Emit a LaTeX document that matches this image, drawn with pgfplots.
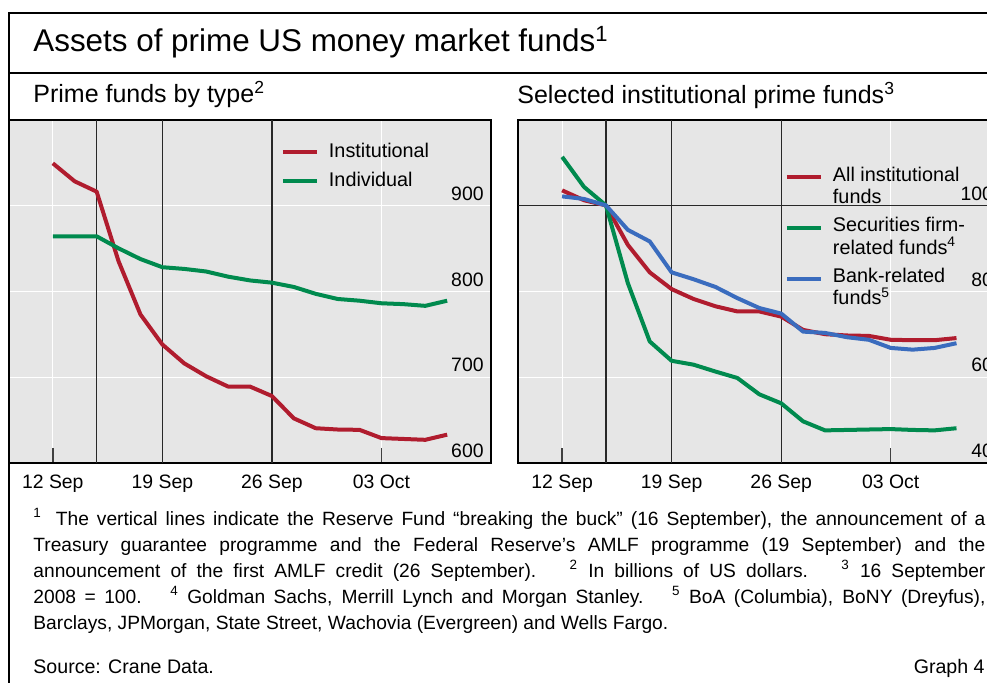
\documentclass[border=0pt]{standalone}
\usepackage{fontspec}
\setmainfont{Liberation Sans}
\usepackage{pgfplots}
\pgfplotsset{compat=1.18}
\definecolor{bisred}{RGB}{176,28,46}
\definecolor{bisgreen}{RGB}{0,138,78}
\definecolor{bisblue}{RGB}{58,108,190}
\definecolor{bg}{RGB}{230,230,230}
\definecolor{evline}{RGB}{40,40,40}

\pgfplotsset{
  bispanel/.style={
    scale only axis, width=241pt, height=171.75pt,
    xmin=-2, xmax=20,
    axis background/.style={fill=bg},
    axis line style={line width=1pt, black},
    xtick={0,5,10,15}, xticklabels={12 Sep,19 Sep,26 Sep,03 Oct},
    xtick pos=bottom, tick align=inside, major tick length=7.5pt,
    xtick style={black!75, line width=0.7pt},
    ytick style={draw=none},
    xmajorgrids, ymajorgrids,
    grid style={white, line width=0.6pt},
    yticklabel pos=right,
    ticklabel style={font=\fontsize{9.7}{11}\selectfont, inner sep=0pt},
    yticklabel style={anchor=base east, xshift=-3.5pt, yshift=2.6pt},
    xticklabel style={anchor=base, yshift=-12.5pt},
    legend cell align=left,
    legend style={draw=none, fill=none, inner sep=0pt, outer sep=0pt,
      font=\fontsize{9.9}{11.15}\selectfont,
      nodes={inner sep=0pt, align=left}, column sep=5pt},
  }
}

\begin{document}
\begin{tikzpicture}[x=0.5pt, y=0.5pt]
\useasboundingbox (0,0) rectangle (987,682);
\clip (0,0) rectangle (987,682);
\fill[white] (0,0) rectangle (987,682);
\coordinate (LA) at (9,219);
\coordinate (RA) at (518.3,219);

% ---------- left panel ----------
\begin{axis}[bispanel, at={(LA)}, anchor=south west,
  ymin=600, ymax=1000, ytick={600,700,800,900}, yticklabels={600,700,800,900},
  legend style={at={(0.5643,0.932)}, anchor=north west, row sep=5.85pt},
  legend image code/.code={\draw[#1] (0pt,0pt) -- (17pt,0pt);},
]
\addplot[evline, line width=0.65pt, forget plot] coordinates {(2,600) (2,1000)};
\addplot[evline, line width=0.65pt, forget plot] coordinates {(5,600) (5,1000)};
\addplot[evline, line width=0.65pt, forget plot] coordinates {(10,600) (10,1000)};
\addplot[bisred, line width=2pt, line join=round] coordinates {
(0,949) (1,928) (2,916) (3,835) (4,773) (5,738) (6,716) (7,701) (8,689) (9,689)
(10,678) (11,652) (12,640.5) (13,639) (14,638.6) (15,629) (16,628) (17,627) (18,633)};
\addlegendentry{Institutional}
\addplot[bisgreen, line width=2pt, line join=round] coordinates {
(0,864) (1,864) (2,864) (3,850) (4,837.5) (5,828) (6,826) (7,823) (8,817) (9,812.6)
(10,810) (11,805) (12,797) (13,791) (14,789) (15,786) (16,785) (17,783) (18,789)};
\addlegendentry{Individual}
\end{axis}

% ---------- right panel ----------
\begin{axis}[bispanel, at={(RA)}, anchor=south west,
  ymin=40, ymax=120, ytick={40,60,80,100}, yticklabels={40,60,80,100},
  legend style={at={(0.5533,0.862)}, anchor=north west, row sep=5.5pt},
  legend image code/.code={\draw[#1] (0pt,4.7pt) -- (17pt,4.7pt);},
]
\addplot[evline, line width=0.65pt, forget plot] coordinates {(2,40) (2,120)};
\addplot[evline, line width=0.65pt, forget plot] coordinates {(5,40) (5,120)};
\addplot[evline, line width=0.65pt, forget plot] coordinates {(10,40) (10,120)};
\addplot[evline, line width=0.65pt, forget plot] coordinates {(-2,100) (20,100)};
\addplot[bisred, line width=2pt, line join=round] coordinates {
(0,103.5) (1,101.2) (2,100) (3,90.8) (4,84.4) (5,80.5) (6,78.2) (7,76.5) (8,75.3) (9,75.3)
(10,74.1) (11,71.0) (12,70.0) (13,69.7) (14,69.6) (15,68.7) (16,68.6) (17,68.6) (18,69.1)};
\addlegendentry{All institutional\\funds}
\addplot[bisgreen, line width=2pt, line join=round] coordinates {
(0,111.3) (1,104.3) (2,100) (3,81.9) (4,68.3) (5,63.8) (6,62.9) (7,61.3) (8,59.8) (9,56.0)
(10,53.9) (11,49.7) (12,47.6) (13,47.7) (14,47.8) (15,47.9) (16,47.7) (17,47.6) (18,48.1)};
\addlegendentry{Securities firm-\\related funds\textsuperscript{4}}
\addplot[bisblue, line width=2pt, line join=round] coordinates {
(0,102.1) (1,101.5) (2,100) (3,94.3) (4,91.6) (5,84.4) (6,82.8) (7,81.0) (8,78.4) (9,76.1)
(10,74.8) (11,70.6) (12,70.3) (13,69.3) (14,68.7) (15,66.8) (16,66.4) (17,66.8) (18,67.9)};
\addlegendentry{Bank-related\\funds\textsuperscript{5}}
\end{axis}

% ---------- frame and texts ----------
\draw[line width=1pt] (9,669.3) rectangle (1012,-18);
\draw[line width=1pt] (9,609.3) -- (1012,609.3);
\node[anchor=base west, inner sep=0pt, font=\fontsize{15.7}{18}\selectfont] at (33,630.3)
  {Assets of prime US money market funds\textsuperscript{1}};
\node[anchor=base west, inner sep=0pt, font=\fontsize{12.5}{14}\selectfont] at (33,579.5)
  {Prime funds by type\textsuperscript{2}};
\node[anchor=base west, inner sep=0pt, font=\fontsize{12.5}{14}\selectfont] at (517,578.5)
  {Selected institutional prime funds\textsuperscript{3}};

\begin{scope}[every node/.style={anchor=base west, inner sep=0pt, font=\fontsize{9.6}{13}\selectfont}]
\node at (33,157) {\makebox[476pt][s]{\textsuperscript{1}\hspace{3pt} The vertical lines indicate the Reserve Fund “breaking the buck” (16 September), the announcement of a}};
\node at (33,131) {\makebox[476pt][s]{Treasury guarantee programme and the Federal Reserve’s AMLF programme (19 September) and the}};
\node at (33,105) {\makebox[476pt][s]{announcement of the first AMLF credit (26 September).\hspace{6pt} \textsuperscript{2} In billions of US dollars.\hspace{6pt} \textsuperscript{3} 16 September}};
\node at (33,79) {\makebox[476pt][s]{2008 = 100.\hspace{6pt} \textsuperscript{4} Goldman Sachs, Merrill Lynch and Morgan Stanley.\hspace{6pt} \textsuperscript{5} BoA (Columbia), BoNY (Dreyfus),}};
\node at (33,53) {Barclays, JPMorgan, State Street, Wachovia (Evergreen) and Wells Fargo.};
\node[font=\fontsize{9.8}{12}\selectfont] at (33,9) {Source: Crane Data.};
\node[anchor=base east, font=\fontsize{9.8}{12}\selectfont] at (985,9) {Graph 4};
\end{scope}
\end{tikzpicture}
\end{document}
